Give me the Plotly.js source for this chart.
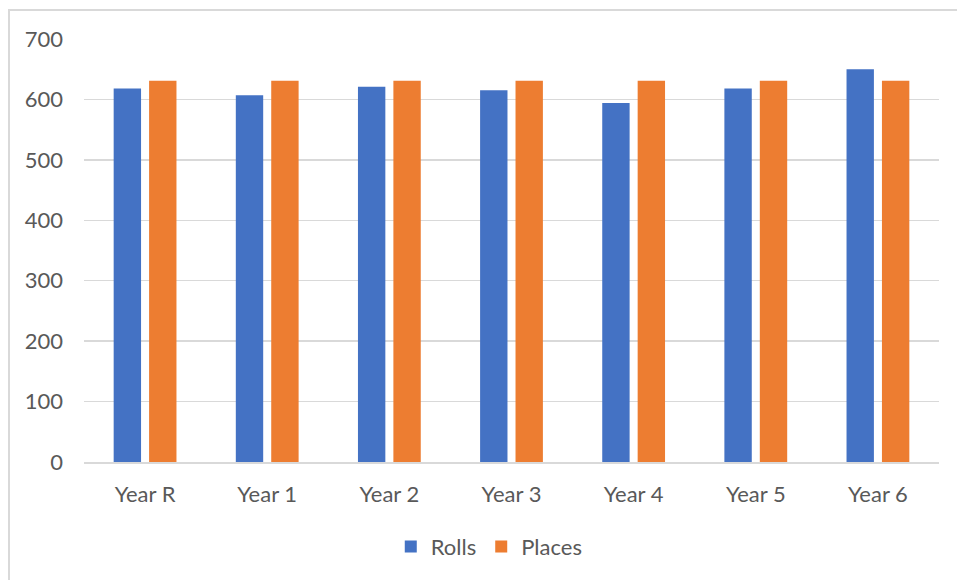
<!DOCTYPE html>
<html>
<head>
<meta charset="utf-8">
<script src="https://cdn.plot.ly/plotly-3.0.1.min.js"></script>
<style>
  html, body { margin: 0; padding: 0; background: #fff; }
  #chart { width: 957px; height: 580px; position: relative; }
  #frame { position: absolute; left: 8px; top: 9px; width: 2000px; height: 2000px;
           border-left: 2px solid #D9D9D9; border-top: 2px solid #D9D9D9; pointer-events: none; box-sizing: border-box; }
</style>
</head>
<body>
<div id="chart"></div>
<div id="frame"></div>
<script>
const categories = ["Year R", "Year 1", "Year 2", "Year 3", "Year 4", "Year 5", "Year 6"];
const rolls = [618, 607, 621, 615, 594, 618, 650];
const places = [631, 631, 631, 631, 631, 631, 631];
const yTicks = [0, 100, 200, 300, 400, 500, 600, 700];

const fontFamily = "Lato, 'Open Sans', sans-serif";
const textColor = "#595959";

const traces = [
  { type: "bar", name: "Rolls", x: categories, y: rolls, marker: { color: "#4472C4" }, hoverinfo: "x+y" },
  { type: "bar", name: "Places", x: categories, y: places, marker: { color: "#ED7D31" }, hoverinfo: "x+y" }
];

const layout = {
  width: 957, height: 580,
  margin: { l: 84, r: 18, t: 39, b: 118, pad: 0 },
  paper_bgcolor: "#ffffff", plot_bgcolor: "#ffffff",
  barmode: "group", bargap: 0.42, bargroupgap: 0.227,
  font: { family: fontFamily, size: 22, color: textColor },
  xaxis: {
    type: "category", showgrid: false, zeroline: false,
    showline: true, linecolor: "#D9D9D9", linewidth: 1.5,
    ticks: "", ticklabelstandoff: 12,
    tickfont: { family: fontFamily, size: 22, color: textColor }
  },
  yaxis: {
    range: [0, 700], tickvals: yTicks, ticktext: yTicks.map(String),
    showgrid: true, gridcolor: "#D9D9D9", gridwidth: 1.5,
    zeroline: false, showline: false, ticks: "", ticklabelstandoff: 20,
    tickfont: { family: fontFamily, size: 22, color: textColor }
  },
  showlegend: true,
  legend: {
    orientation: "h", x: 0.474, xanchor: "center", y: -0.2, yanchor: "middle",
    font: { family: fontFamily, size: 22, color: textColor },
    itemwidth: 30, itemsizing: "constant", traceorder: "normal"
  }
};

Plotly.newPlot("chart", traces, layout, { displayModeBar: false, staticPlot: true });
</script>
</body>
</html>
